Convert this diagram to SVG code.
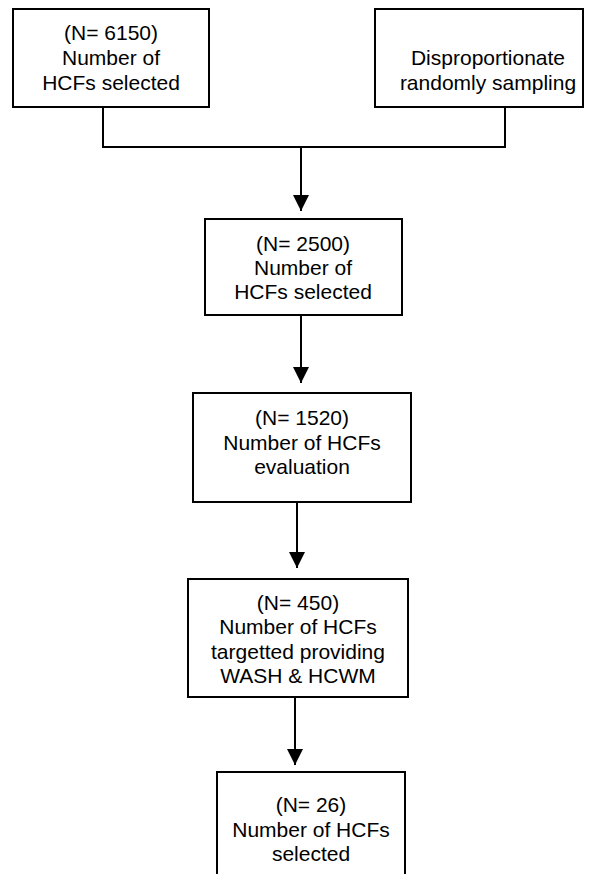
<svg xmlns="http://www.w3.org/2000/svg" width="589" height="874" viewBox="0 0 589 874">
  <style>
    .box { fill: #ffffff; stroke: #000000; stroke-width: 2; }
    .lbl { font-family: "Liberation Sans", Arial, sans-serif; font-size: 21px; fill: #000000; text-anchor: middle; }
    .wire { fill: none; stroke: #000000; stroke-width: 2; }
  </style>
  <defs>
    <marker id="head" viewBox="0 0 16 16" refX="16" refY="8" markerWidth="17" markerHeight="16" markerUnits="userSpaceOnUse" orient="auto">
      <path d="M0,0 L16,8 L0,16 Z" fill="#000000"/>
    </marker>
  </defs>
  <rect width="589" height="874" fill="#ffffff"/>

  <g id="connectors">
    <polyline class="wire" points="103,107 103,147 505,147 505,107"/>
    <line class="wire" x1="301" y1="147" x2="301" y2="211" marker-end="url(#head)"/>
    <line class="wire" x1="301" y1="315" x2="301" y2="383" marker-end="url(#head)"/>
    <line class="wire" x1="297" y1="502" x2="297" y2="568" marker-end="url(#head)"/>
    <line class="wire" x1="295" y1="697" x2="295" y2="765" marker-end="url(#head)"/>
  </g>

  <g id="n6150">
    <rect class="box" x="13" y="9" width="196" height="98"/>
    <text class="lbl" x="111" y="40">(N= 6150)</text>
    <text class="lbl" x="111" y="65">Number of</text>
    <text class="lbl" x="111" y="90">HCFs selected</text>
  </g>

  <g id="sampling">
    <rect class="box" x="375" y="9" width="208" height="98"/>
    <text class="lbl" x="488" y="65">Disproportionate</text>
    <text class="lbl" x="488" y="90">randomly sampling</text>
  </g>

  <g id="n2500">
    <rect class="box" x="205" y="219" width="197" height="96"/>
    <text class="lbl" x="303" y="251">(N= 2500)</text>
    <text class="lbl" x="303" y="275">Number of</text>
    <text class="lbl" x="303" y="299">HCFs selected</text>
  </g>

  <g id="n1520">
    <rect class="box" x="193" y="393" width="218" height="109"/>
    <text class="lbl" x="302" y="425">(N= 1520)</text>
    <text class="lbl" x="302" y="450">Number of HCFs</text>
    <text class="lbl" x="302" y="474">evaluation</text>
  </g>

  <g id="n450">
    <rect class="box" x="188" y="579" width="220" height="118"/>
    <text class="lbl" x="298" y="610">(N= 450)</text>
    <text class="lbl" x="298" y="634">Number of HCFs</text>
    <text class="lbl" x="298" y="659">targetted providing</text>
    <text class="lbl" x="298" y="683">WASH &amp; HCWM</text>
  </g>

  <g id="n26">
    <rect class="box" x="217" y="772" width="188" height="120"/>
    <text class="lbl" x="311" y="812">(N= 26)</text>
    <text class="lbl" x="311" y="837">Number of HCFs</text>
    <text class="lbl" x="311" y="861">selected</text>
  </g>
</svg>
